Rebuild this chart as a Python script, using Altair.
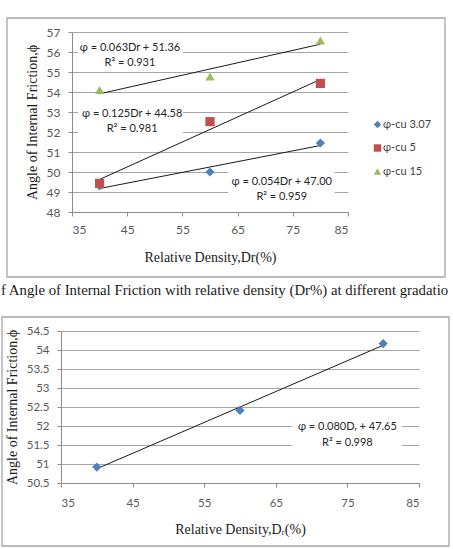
import altair as alt
import pandas as pd

# ---------------- data ----------------
dr = [40, 60, 80]
series_names = ["φ-cu 3.07", "φ-cu 5", "φ-cu 15"]
phi_cu307 = [49.30, 50.00, 51.45]
phi_cu5 = [49.43, 52.52, 54.43]
phi_cu15 = [54.10, 54.77, 56.58]
phi_single = [50.92, 52.41, 54.17]

x_ticks = [35, 45, 55, 65, 75, 85]
top_y_ticks = [48, 49, 50, 51, 52, 53, 54, 55, 56, 57]
bot_y_ticks = [50.5, 51, 51.5, 52, 52.5, 53, 53.5, 54, 54.5]

top_eq = ["φ = 0.063Dr + 51.36", "φ = 0.125Dr + 44.58", "φ = 0.054Dr + 47.00"]
top_r2 = ["R² = 0.931", "R² = 0.981", "R² = 0.959"]
bot_eq = ["φ = 0.080Dᵣ + 47.65"]
bot_r2 = ["R² = 0.998"]

# annotation anchors (data units)
top_eq_x = [45.5, 45.9, 73.0]
top_eq_y = [56.2, 52.9, 49.52]
top_r2_y = [55.45, 52.15, 48.77]
top_box_x1 = [36.1, 36.1, 63.3]
top_box_x2 = [55.1, 55.1, 82.6]
top_box_y1 = [56.6, 53.3, 50.2]
top_box_y2 = [55.15, 51.8, 48.45]

bot_eq_x = [75.0]
bot_eq_y = [51.98]
bot_r2_y = [51.55]
bot_box_x1 = [67.3]
bot_box_x2 = [82.6]
bot_box_y1 = [52.18]
bot_box_y2 = [51.34]

caption = "f Angle of Internal Friction with relative density (Dr%) at different gradatio"

colors = ["#4F81BD", "#C0504D", "#9BBB59"]
shapes = ["diamond", "square", "triangle-up"]

SANS = "Lato"
SERIF = "Liberation Serif"
GRID = "#A6A6A6"
AXIS = "#8C8C8C"
LABEL = "#595959"
FRAME = "#A6A6A6"

# ---------------- tables ----------------
top_df = pd.DataFrame({
    "Dr": dr * 3,
    "phi": phi_cu307 + phi_cu5 + phi_cu15,
    "series": [series_names[0]] * 3 + [series_names[1]] * 3 + [series_names[2]] * 3,
})
top_txt = pd.DataFrame({"Dr": top_eq_x, "eq_y": top_eq_y, "r2_y": top_r2_y,
                        "eq": top_eq, "r2": top_r2})
top_box = pd.DataFrame({"x1": top_box_x1, "x2": top_box_x2, "y1": top_box_y1, "y2": top_box_y2})

bot_df = pd.DataFrame({"Dr": dr, "phi": phi_single})
bot_txt = pd.DataFrame({"Dr": bot_eq_x, "eq_y": bot_eq_y, "r2_y": bot_r2_y,
                        "eq": bot_eq, "r2": bot_r2})
bot_box = pd.DataFrame({"x1": bot_box_x1, "x2": bot_box_x2, "y1": bot_box_y1, "y2": bot_box_y2})
one = pd.DataFrame({"a": [0]})

# ---------------- top chart ----------------
TW, TH = 276, 180
tx_scale = alt.Scale(domain=[35, 85], nice=False, zero=False)
ty_scale = alt.Scale(domain=[48, 57], nice=False, zero=False)

tx_axis = alt.Axis(values=x_ticks, format="d", grid=False, tickSize=4, tickColor=AXIS,
                   domainColor=AXIS, labelFont=SANS, labelFontSize=12, labelColor=LABEL,
                   labelPadding=8, title="Relative Density,Dr(%)", titleFont=SERIF,
                   titleFontSize=14, titleFontWeight="normal", titleColor="#1a1a1a",
                   titleX=TW / 2, titleY=45, titleBaseline="middle", titleAlign="center")
ty_axis = alt.Axis(values=top_y_ticks, format="d", grid=True, gridColor=GRID, tickSize=4,
                   tickColor=AXIS, domainColor=AXIS, labelFont=SANS, labelFontSize=12,
                   labelColor=LABEL, labelPadding=8, title="Angle of Internal Friction,ϕ",
                   titleFont=SERIF, titleFontSize=14, titleFontWeight="normal",
                   titleColor="#1a1a1a", titleX=-40, titleY=TH / 2, titleAngle=-90,
                   titleBaseline="middle", titleAlign="center")

top_frame = alt.Chart(one).mark_rect(fill="white", fillOpacity=0, stroke=FRAME, strokeWidth=1.3).encode(
    x=alt.value(-65), x2=alt.value(373), y=alt.value(-14), y2=alt.value(245))

top_boxes = alt.Chart(top_box).mark_rect(color="white").encode(
    x=alt.X("x1:Q", scale=tx_scale, axis=tx_axis), x2="x2:Q",
    y=alt.Y("y1:Q", scale=ty_scale, axis=ty_axis), y2="y2:Q")

top_lines = alt.Chart(top_df).transform_regression(
    "Dr", "phi", groupby=["series"]).mark_line(color="#1a1a1a", strokeWidth=1).encode(
    x=alt.X("Dr:Q", scale=tx_scale, axis=tx_axis),
    y=alt.Y("phi:Q", scale=ty_scale, axis=ty_axis),
    detail="series:N")

leg = alt.Legend(title=None, orient="none", legendX=372, legendY=87, labelFont=SANS,
                 labelFontSize=11, labelColor="#404040", symbolSize=55, rowPadding=11.5,
                 symbolStrokeWidth=0, labelOffset=0)

top_points = alt.Chart(top_df).mark_point(filled=True, size=85, opacity=1).encode(
    x=alt.X("Dr:Q", scale=tx_scale, axis=tx_axis),
    y=alt.Y("phi:Q", scale=ty_scale, axis=ty_axis),
    color=alt.Color("series:N", scale=alt.Scale(domain=series_names, range=colors), legend=leg, sort=series_names),
    shape=alt.Shape("series:N", scale=alt.Scale(domain=series_names, range=shapes), legend=leg, sort=series_names),
)

top_eq_text = alt.Chart(top_txt).mark_text(font=SANS, fontSize=11, color="#262626", baseline="middle").encode(
    x=alt.X("Dr:Q", scale=tx_scale, axis=tx_axis),
    y=alt.Y("eq_y:Q", scale=ty_scale, axis=ty_axis), text="eq:N")
top_r2_text = alt.Chart(top_txt).mark_text(font=SANS, fontSize=11, color="#262626", baseline="middle").encode(
    x=alt.X("Dr:Q", scale=tx_scale, axis=tx_axis),
    y=alt.Y("r2_y:Q", scale=ty_scale, axis=ty_axis), text="r2:N")

top = alt.layer(top_frame, top_boxes, top_lines, top_points, top_eq_text, top_r2_text).properties(
    width=TW, height=TH)

# ---------------- bottom chart ----------------
BW, BH = 358, 152
bx_scale = alt.Scale(domain=[35, 85], nice=False, zero=False)
by_scale = alt.Scale(domain=[50.5, 54.5], nice=False, zero=False)

bx_axis = alt.Axis(values=x_ticks, format="d", grid=False, tickSize=4, tickColor=AXIS,
                   domainColor=AXIS, labelFont=SANS, labelFontSize=11.5, labelColor=LABEL,
                   labelPadding=10, title="Relative Density,Dᵣ(%)", titleFont=SERIF,
                   titleFontSize=14, titleFontWeight="normal", titleColor="#1a1a1a",
                   titleX=BW / 2, titleY=46, titleBaseline="middle", titleAlign="center")
by_axis = alt.Axis(values=bot_y_ticks, format=".1~f", grid=True, gridColor=GRID, tickSize=4,
                   tickColor=AXIS, domainColor=AXIS, labelFont=SANS, labelFontSize=11.5,
                   labelColor=LABEL, labelPadding=8, title="Angle of Internal Friction,ϕ",
                   titleFont=SERIF, titleFontSize=14, titleFontWeight="normal",
                   titleColor="#1a1a1a", titleX=-49, titleY=BH / 2, titleAngle=-90,
                   titleBaseline="middle", titleAlign="center")

bot_frame = alt.Chart(one).mark_rect(fill="white", fillOpacity=0, stroke=FRAME, strokeWidth=1.3).encode(
    x=alt.value(-59), x2=alt.value(388), y=alt.value(-14), y2=alt.value(215))

bot_caption = alt.Chart(one).mark_text(text=caption, font=SERIF, fontSize=14.8, color="#1a1a1a",
                                       align="left", baseline="middle", limit=452,
                                       ellipsis="\u200b").encode(
    x=alt.value(-60), y=alt.value(-40))

bot_boxes = alt.Chart(bot_box).mark_rect(color="white").encode(
    x=alt.X("x1:Q", scale=bx_scale, axis=bx_axis), x2="x2:Q",
    y=alt.Y("y1:Q", scale=by_scale, axis=by_axis), y2="y2:Q")

bot_line = alt.Chart(bot_df).transform_regression("Dr", "phi").mark_line(
    color="#1a1a1a", strokeWidth=1).encode(
    x=alt.X("Dr:Q", scale=bx_scale, axis=bx_axis),
    y=alt.Y("phi:Q", scale=by_scale, axis=by_axis))

bot_points = alt.Chart(bot_df).mark_point(filled=True, size=85, shape="diamond", color=colors[0], opacity=1).encode(
    x=alt.X("Dr:Q", scale=bx_scale, axis=bx_axis),
    y=alt.Y("phi:Q", scale=by_scale, axis=by_axis))

bot_eq_text = alt.Chart(bot_txt).mark_text(font=SANS, fontSize=11, color="#262626", baseline="middle").encode(
    x=alt.X("Dr:Q", scale=bx_scale, axis=bx_axis),
    y=alt.Y("eq_y:Q", scale=by_scale, axis=by_axis), text="eq:N")
bot_r2_text = alt.Chart(bot_txt).mark_text(font=SANS, fontSize=11, color="#262626", baseline="middle").encode(
    x=alt.X("Dr:Q", scale=bx_scale, axis=bx_axis),
    y=alt.Y("r2_y:Q", scale=by_scale, axis=by_axis), text="r2:N")

bottom = alt.layer(bot_frame, bot_caption, bot_boxes, bot_line, bot_points, bot_eq_text, bot_r2_text).properties(
    width=BW, height=BH)

# ---------------- layout ----------------
def spacer(w):
    return alt.Chart(one).mark_text(text="").encode(x=alt.value(0), y=alt.value(0)).properties(width=w, height=1)

top_row = alt.hconcat(spacer(6), top, spacing=0)
bot_row = alt.hconcat(spacer(1), bottom, spacing=0)

chart = alt.vconcat(top_row, bot_row, spacing=5).properties(
    padding={"left": 0, "top": 17, "right": 0, "bottom": 0},
    background="white",
).configure_view(stroke=None)

chart.save("out.html", embed_options={"renderer": "svg", "actions": False})
